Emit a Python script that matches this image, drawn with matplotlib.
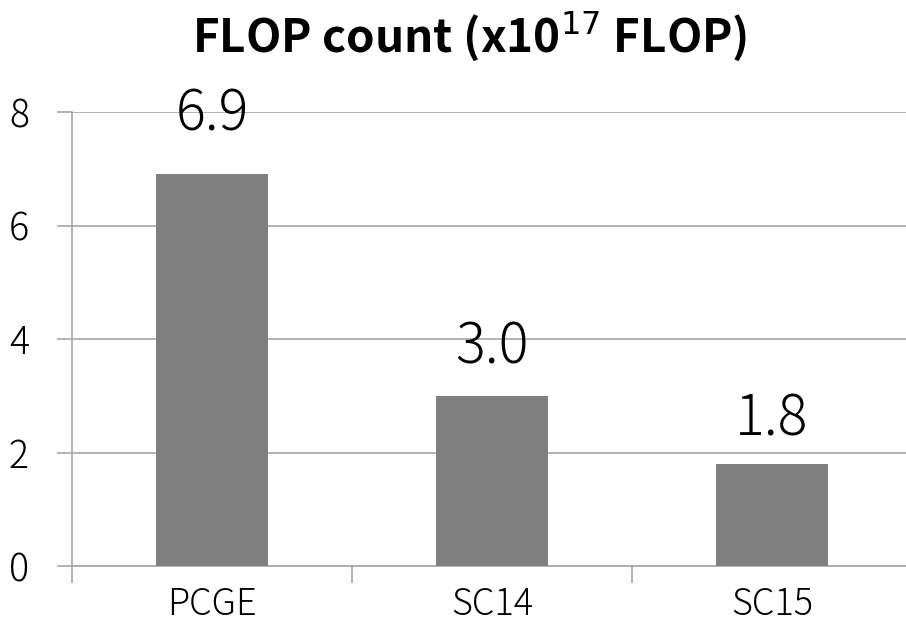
import matplotlib
matplotlib.use("Agg")
import matplotlib.pyplot as plt

plt.rcParams['font.family'] = ['Noto Sans CJK JP', 'DejaVu Sans']

categories = ["PCGE", "SC14", "SC15"]
flop_values = [6.9, 3.0, 1.8]
label_texts = ["6.9", "3.0", "1.8"]
y_ticks = [0, 2, 4, 6, 8]

# vertical gap (points) between bar tops and their value labels
label_gaps = [22, 14, 11]

fig = plt.figure(figsize=(9.06, 6.30), dpi=100)
ax = fig.add_axes([72 / 906, 1 - 566 / 630, 840 / 906, (566 - 112) / 630])

x = list(range(len(categories)))
ax.bar(x, flop_values, width=0.4, color="#808080", zorder=3)

ax.set_xlim(-0.5, len(categories) - 0.5)
ax.set_ylim(0, 8)
ax.set_yticks(y_ticks)
ax.set_yticklabels([str(t) for t in y_ticks], fontsize=27, fontweight="light")
ax.yaxis.grid(True, color="#a6a6a6", linewidth=1.2, zorder=0)

# category boundaries carry the x tick marks; labels sit at bar centers
ax.set_xticks([i - 0.5 for i in range(len(categories) + 1)])
ax.set_xticklabels([])
ax.set_xticks(x, minor=True)
ax.set_xticklabels(categories, minor=True, fontsize=26, fontweight="light")
ax.tick_params(axis="x", which="minor", length=0, pad=14)
ax.tick_params(axis="x", which="major", length=12, width=1.2, color="#a6a6a6")
ax.tick_params(axis="y", length=11, width=1.2, color="#a6a6a6", pad=20)

for side in ("top", "right"):
    ax.spines[side].set_visible(False)
for side in ("left", "bottom"):
    ax.spines[side].set_color("#a6a6a6")
    ax.spines[side].set_linewidth(1.2)

for xi, v, txt, gap in zip(x, flop_values, label_texts, label_gaps):
    ax.annotate(txt, (xi, v), xytext=(0, gap), textcoords="offset points",
                ha="center", va="bottom", fontsize=40, fontweight="light",
                zorder=4)

fig.text(470 / 906, 1 - 36 / 630, "FLOP count (x10$^{17}$ FLOP)", ha="center",
         va="center", fontsize=33, fontweight="bold")

fig.savefig("out.png", dpi=100)
